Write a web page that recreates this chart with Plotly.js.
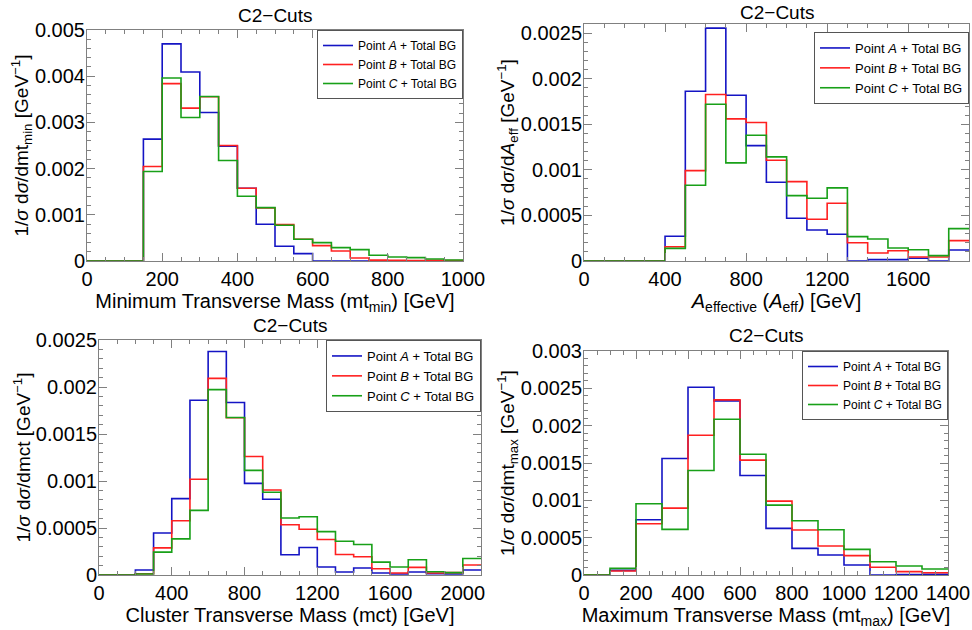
<!DOCTYPE html>
<html><head><meta charset="utf-8">
<script src="https://cdn.plot.ly/plotly-3.0.1.min.js"></script>
<style>html,body{margin:0;padding:0;background:#fff}</style>
</head><body><div id="chart" style="width:972px;height:630px"></div>
<script>
const seriesNames = ['Point <i>A</i> + Total BG', 'Point <i>B</i> + Total BG', 'Point <i>C</i> + Total BG'];
const panelTitle = 'C2\u2212Cuts';

// Panel 1: minimum transverse mass, bin edges (GeV)
const mtminEdges = [0,50,100,150,200,250,300,350,400,450,500,550,600,650,700,750,800,850,900,950,1000];
const mtminA = [0,0,0,0.002637,0.004700,0.004090,0.003215,0.002486,0.001575,0.000795,0.000318,0.000159,0,0,0,0,0,0,0,0];
const mtminB = [0,0,0,0.002045,0.003840,0.003310,0.003555,0.002500,0.001575,0.001149,0.000788,0.000470,0.000332,0.000217,0.000065,0.000020,0.000015,0.000010,0.000015,0.000010];
const mtminC = [0,0,0,0.001936,0.003960,0.003107,0.003560,0.002175,0.001400,0.001156,0.000773,0.000470,0.000397,0.000289,0.000246,0.000123,0.000087,0.000072,0.000043,0.000022];

// Panel 2: A_effective
const aeffEdges = [0,100,200,300,400,500,600,700,800,900,1000,1100,1200,1300,1400,1500,1600,1700,1800,1900];
const aeffA = [0,0,0,0,0.000271,0.001863,0.002555,0.001819,0.001266,0.000864,0.000469,0.000340,0.000293,0,0.000015,0.000015,0.000030,0,0.000121];
const aeffB = [0,0,0,0,0.000157,0.000992,0.001827,0.001559,0.001519,0.001105,0.000871,0.000458,0.000633,0.000201,0.000088,0.000113,0.000044,0.000044,0.000223];
const aeffC = [0,0,0,0,0.000139,0.000831,0.001720,0.001076,0.001380,0.001142,0.000717,0.000688,0.000802,0.000267,0.000242,0.000143,0.000124,0.000059,0.000355];

// Panel 3: cluster transverse mass
const mctEdges = [0,100,200,300,400,500,600,700,800,900,1000,1100,1200,1300,1400,1500,1600,1700,1800,1900,2000,2100];
const mctA = [0,0,0.000053,0.000447,0.000813,0.001859,0.002377,0.001835,0.000975,0.000806,0.000215,0.000292,0.000085,0.000032,0.000074,0.000021,0.000011,0.000032,0.000014,0.000010,0.000053];
const mctB = [0,0,0.000014,0.000289,0.000577,0.001018,0.002092,0.001673,0.001261,0.000905,0.000535,0.000486,0.000377,0.000218,0.000194,0.000067,0.000021,0.000081,0.000021,0.000025,0.000106];
const mctC = [0,0,0.000011,0.000243,0.000384,0.000687,0.001972,0.001676,0.001113,0.000880,0.000606,0.000620,0.000461,0.000359,0.000324,0.000137,0.000085,0.000162,0.000035,0.000025,0.000176];

// Panel 4: maximum transverse mass
const mtmaxEdges = [0,100,200,300,400,500,600,700,800,900,1000,1100,1200,1300,1400];
const mtmaxA = [0,0.000062,0.000740,0.001560,0.002514,0.002332,0.001333,0.000624,0.000357,0.000267,0.000134,0,0.000005,0.000009];
const mtmaxB = [0,0.000053,0.000687,0.000896,0.001872,0.002345,0.001538,0.000990,0.000602,0.000388,0.000259,0.000103,0.000045,0.000031];
const mtmaxC = [0,0.000089,0.000954,0.000611,0.001400,0.002086,0.001618,0.000936,0.000727,0.000606,0.000343,0.000178,0.000120,0.000080];

const colors = ['#1414c4', '#ff2020', '#18a018'];
const FONT = 'Liberation Sans, Arial, sans-serif';

function stepTrace(edges, vals, idx, xa, ya, leg) {
  return {
    type: 'scatter', mode: 'lines', x: edges, y: vals.concat([vals[vals.length - 1]]),
    line: {shape: 'hv', color: colors[idx], width: 1.6},
    name: seriesNames[idx], xaxis: xa, yaxis: ya, legend: leg, hoverinfo: 'skip'
  };
}

const panels = [
  {edges: mtminEdges, s: [mtminA, mtminB, mtminC], xa: 'x', ya: 'y', leg: 'legend'},
  {edges: aeffEdges, s: [aeffA, aeffB, aeffC], xa: 'x2', ya: 'y2', leg: 'legend2'},
  {edges: mctEdges, s: [mctA, mctB, mctC], xa: 'x3', ya: 'y3', leg: 'legend3'},
  {edges: mtmaxEdges, s: [mtmaxA, mtmaxB, mtmaxC], xa: 'x4', ya: 'y4', leg: 'legend4'}
];
const traces = [];
panels.forEach(p => { p.s.forEach((v, i) => traces.push(stepTrace(p.edges, v, i, p.xa, p.ya, p.leg))); });

const W = 972, H = 630;
function dx(a, b) { return [a / W, b / W]; }
function dy(top, bot) { return [1 - bot / H, 1 - top / H]; }

function minor(d) { return {ticks: 'inside', ticklen: 4, tickcolor: '#808080', dtick: d, showgrid: false}; }
function ax(extra) {
  return Object.assign({
    showline: true, linecolor: '#808080', linewidth: 1, mirror: 'allticks',
    ticks: 'inside', ticklen: 8, tickcolor: '#808080', tickwidth: 1,
    showgrid: false, zeroline: false, automargin: false,
    tickfont: {family: FONT, size: 20, color: '#000'}
  }, extra);
}
function yax(extra) { return ax(Object.assign({ticklabelstandoff: -3, tickformat: '~g'}, extra)); }
function ttl(text, standoff, size) {
  return {text: text, standoff: standoff, font: {family: FONT, size: size, color: '#000'}};
}
const ySig = '1/<i>\u03c3</i> d<i>\u03c3</i>/d';
const legBase = {bgcolor: '#ffffff', bordercolor: '#555555', borderwidth: 1, xanchor: 'right', yanchor: 'top',
  font: {family: FONT, size: 13, color: '#000'}, tracegroupgap: 0};

const layout = {
  width: W, height: H, margin: {l: 0, r: 0, t: 0, b: 0, autoexpand: false},
  paper_bgcolor: '#fff', plot_bgcolor: '#fff', showlegend: true,
  font: {family: FONT, color: '#000'},
  xaxis: ax({domain: dx(87, 463), range: [0, 1000], dtick: 200, anchor: 'y', minor: minor(50),
    title: ttl('Minimum Transverse Mass (mt<sub>min</sub>) [GeV]', 3, 20)}),
  yaxis: yax({domain: dy(30, 261), range: [0, 0.005], dtick: 0.001, anchor: 'x', minor: minor(0.0002),
    title: ttl(ySig + 'mt<sub>min</sub> [GeV<sup>\u22121</sup>]', 0, 19)}),
  xaxis2: ax({domain: dx(584, 969), range: [0, 1900], dtick: 400, anchor: 'y2', minor: minor(100),
    title: ttl('<i>A</i><sub>effective</sub> (<i>A</i><sub>eff</sub>) [GeV]', 3, 20)}),
  yaxis2: yax({domain: dy(24, 261), range: [0, 0.0026], dtick: 0.0005, anchor: 'x2', minor: minor(0.0001),
    title: ttl(ySig + '<i>A</i><sub>eff</sub> [GeV<sup>\u22121</sup>]', 0, 19)}),
  xaxis3: ax({domain: dx(99, 481), range: [0, 2100], dtick: 400, anchor: 'y3', minor: minor(100),
    title: ttl('Cluster Transverse Mass (mct) [GeV]', 3, 20)}),
  yaxis3: yax({domain: dy(340, 575), range: [0, 0.0025], dtick: 0.0005, anchor: 'x3', minor: minor(0.0001),
    title: ttl(ySig + 'mct [GeV<sup>\u22121</sup>]', 0, 19)}),
  xaxis4: ax({domain: dx(584, 948), range: [0, 1400], dtick: 200, anchor: 'y4', minor: minor(50),
    title: ttl('Maximum Transverse Mass (mt<sub>max</sub>) [GeV]', 3, 20)}),
  yaxis4: yax({domain: dy(351, 575), range: [0, 0.003], dtick: 0.0005, anchor: 'x4', minor: minor(0.0001),
    title: ttl(ySig + 'mt<sub>max</sub> [GeV<sup>\u22121</sup>]', 0, 19)}),
  legend: Object.assign({}, legBase, {x: 463 / W, y: 1 - 30 / H, font: {family: FONT, size: 12, color: '#000'}}),
  legend2: Object.assign({}, legBase, {x: 969 / W, y: 1 - 32 / H}),
  legend3: Object.assign({}, legBase, {x: 481 / W, y: 1 - 340 / H}),
  legend4: Object.assign({}, legBase, {x: 948 / W, y: 1 - 351 / H, font: {family: FONT, size: 12, color: '#000'}}),
  annotations: [
    {text: panelTitle, x: 275 / W, y: 1 - 15 / H, yanchor: 'middle'},
    {text: panelTitle, x: 777 / W, y: 1, yanchor: 'top'},
    {text: panelTitle, x: 290 / W, y: 1 - 325 / H, yanchor: 'middle'},
    {text: panelTitle, x: 766 / W, y: 1 - 335 / H, yanchor: 'middle'}
  ].map(a => Object.assign(a, {xref: 'paper', yref: 'paper', xanchor: 'center', showarrow: false,
    font: {family: FONT, size: 19, color: '#000'}}))
};

Plotly.newPlot('chart', traces, layout, {displayModeBar: false, staticPlot: true});
</script>
</body></html>
